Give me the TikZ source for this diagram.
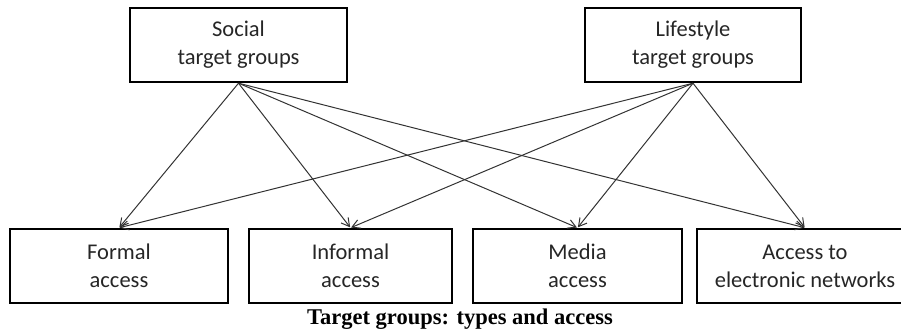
\documentclass[tikz,border=0pt]{standalone}
\usepackage{fontspec}
\setmainfont{Carlito}
\newfontfamily\capfont{Liberation Serif}
\usetikzlibrary{arrows.meta}
\begin{document}
\begin{tikzpicture}[x=1pt,y=-1pt,
  boxst/.style={draw=black,line width=2.4pt,inner sep=0pt,align=center,
    font=\fontsize{22.5}{28}\selectfont,text=black!85},
  arr/.style={draw=black!80,line width=1pt,-{Straight Barb[length=8pt,width=9pt,line width=1pt]},shorten >=0.6pt}]
\useasboundingbox (0,0) rectangle (901,335);
\node[boxst,minimum width=217pt,minimum height=74pt] (soc) at (238.5,45) {Social\\target groups};
\node[boxst,minimum width=216pt,minimum height=74pt] (lif) at (693,45) {Lifestyle\\target groups};
\node[boxst,minimum width=218pt,minimum height=74pt] (for) at (119,266) {Formal\\access};
\node[boxst,minimum width=203pt,minimum height=74pt] (inf) at (350.5,266) {Informal\\access};
\node[boxst,minimum width=209pt,minimum height=74pt] (med) at (577.5,266) {Media\\access};
\node[boxst,minimum width=216pt,minimum height=74pt] (acc) at (805,266) {Access to\\electronic networks};
\node[font=\capfont\bfseries\fontsize{22.5}{26}\selectfont] (cap) at (460,319) {Target groups: types and access};
\foreach \t in {for,inf,med,acc}{
  \draw[arr] (soc.south) -- (\t.north);
  \draw[arr] (lif.south) -- (\t.north);
}
\end{tikzpicture}
\end{document}
